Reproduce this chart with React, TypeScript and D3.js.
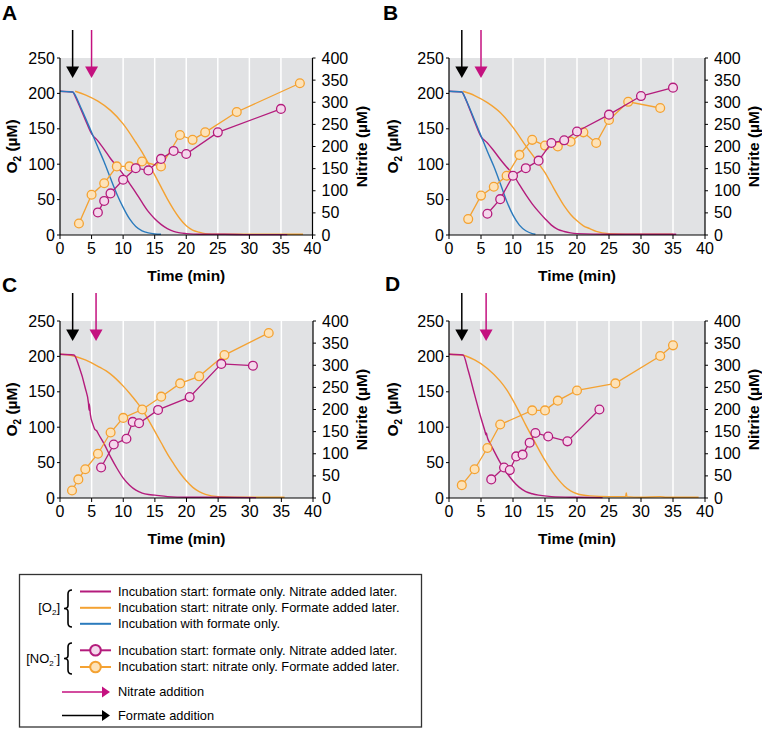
import React from 'react';
import * as d3 from 'd3';

type P = [number, number];

const timeTicks = [0, 5, 10, 15, 20, 25, 30, 35, 40];
const o2Ticks = [0, 50, 100, 150, 200, 250];
const nitriteTicks = [0, 50, 100, 150, 200, 250, 300, 350, 400];

// Panel A
const A_o2Blue: P[] = [[0,203],[1,202.5],[2,202],[2.5,196],[3,186],[4,166],[5,145],[6,124],[7,103],[8,80],[9,58],[10,39],[11,23],[12,12],[13,6],[14,3],[15,1.5],[16,1]];
const A_o2Mag: P[] = [[0,203],[2,202],[2.5,194],[3,184],[4,163],[5,143],[6,133],[7,121],[8,108],[9,97],[10,86],[11,73],[12,60],[13,46],[14,33],[15,23],[16,15],[17,9],[18,5],[19,3],[20,2],[22,1],[26,1],[30,0.5],[36,0.5]];
const A_o2Orange: P[] = [[2.4,203],[4,198],[6,189],[8,176],[10,157],[12,131],[13,117],[14,101],[15,85],[16,68],[17,51],[18,36],[19,23],[20,13],[21,7],[22,4],[23,2],[25,1],[30,1],[38.5,1]];
const A_no2Orange: P[] = [[3,26],[5,91],[7,117],[9,155],[11,155],[13,166],[16,155],[19,226],[21,215],[23,232],[28,278],[38,343]];
const A_no2Mag: P[] = [[6,51],[7,77],[8,94],[10,125],[12,151],[14,146],[16,172],[18,190],[20,183],[25,232],[35,285]];

// Panel B
const B_o2Blue: P[] = [[0,203],[2,202],[2.5,194],[3,184],[4,162],[5,140],[6,118],[7,97],[8,73],[9,48],[10,28],[11,14],[12,6],[13,2],[13.5,1]];
const B_o2Mag: P[] = [[0,203],[2,202],[2.5,194],[3,183],[4,160],[5,139],[6,130],[7,119],[8,107],[9,96],[10,86],[11,71],[12,57],[13,44],[14,33],[15,23],[16,14],[17,8],[18,5],[19,3],[20,2],[25,1],[35.5,1]];
const B_o2Orange: P[] = [[2.2,203],[4,197],[6,187],[8,173],[10,152],[12,126],[14,101],[15,88],[16,72],[17,56],[18,41],[19,29],[20,20],[21,13],[22,9],[23,5],[25,2],[30,1],[35,1]];
const B_no2Orange: P[] = [[3,36],[5,89],[7,109],[9,134],[11,181],[13,215],[15,202],[17,200],[19,211],[21,232],[23,208],[25,260],[28,301],[33,287]];
const B_no2Mag: P[] = [[6,48],[8,81],[10,134],[12,151],[14,168],[16,208],[18,214],[20,234],[25,272],[30,314],[35,333]];

// Panel C
const C_o2Mag: P[] = [[0,203],[2.2,202],[3,186],[4,155],[4.5,134],[4.6,124],[4.63,133],[4.8,118],[5.2,104],[5.5,97],[5.8,95],[6.1,90],[7,76],[8,58],[9,42],[10,28],[11,18],[12,11],[13,7],[14,5],[15,4],[17,2],[20,1],[25,1],[31,0.5]];
const C_o2Orange: P[] = [[0,203],[2,201],[4,195],[6,186],[8,175],[10,158],[11,148],[12,137],[13,125],[14,110],[15,94],[16,78],[17,62],[18,48],[19,35],[20,24],[21,15],[22,9],[23,5],[25,2],[30,1],[35.5,1]];
const C_no2Orange: P[] = [[1.9,17],[2.9,42],[4,65],[6,100],[8,148],[10,181],[13,200],[16,229],[19,259],[22,275],[26,323],[33,373]];
const C_no2Mag: P[] = [[6.5,69],[8.5,121],[10.5,134],[11.5,172],[12.5,169],[15.5,199],[20.5,228],[25.5,303],[30.5,299]];

// Panel D
const D_o2Mag: P[] = [[0,203],[2.2,202],[3,180],[4,146],[5,113],[5.6,95],[5.8,89],[5.85,92],[5.95,87],[6.5,76],[7,67],[8,50],[9,36],[10,24],[11,15],[12,9],[13,6],[14,4],[16,2],[20,1],[24,0.5]];
const D_o2Orange: P[] = [[0,203],[2,202],[4,195],[6,183],[8,165],[9,153],[10,138],[11,121],[12,103],[13,86],[14,69],[15,53],[16,39],[17,27],[18,17],[19,10],[20,6],[22,3],[25,2],[27.6,2],[27.7,7],[27.8,2],[30,1],[33,2],[34,1],[39,1]];
const D_no2Orange: P[] = [[2,29],[4,65],[6,113],[8,166],[13,198],[15,198],[17,220],[20,243],[26,259],[33,321],[35,345]];
const D_no2Mag: P[] = [[6.6,42],[8.6,69],[9.5,63],[10.5,94],[11.5,98],[12.6,125],[13.5,147],[15.5,139],[18.5,128],[23.5,200]];

const formateAdd = [2, 2, 2, 2];
const nitrateAdd = [5, 5, 5.7, 5.8];
const panelLetters = ['A', 'B', 'C', 'D'];

const legendLines = [
  'Incubation start: formate only. Nitrate added later.',
  'Incubation start: nitrate only. Formate added later.',
  'Incubation with formate only.',
];
const legendMarkers = [
  'Incubation start: formate only. Nitrate added later.',
  'Incubation start: nitrate only. Formate added later.',
];
const legendArrows = ['Nitrate addition', 'Formate addition'];

const MAG = '#b41c7c';
const ORA = '#f4a232';
const BLUE = '#2b7bbd';
const MAG_FILL = '#f4d8ec';
const ORA_FILL = '#fde2b8';
const MAG_ARROW = '#c4117f';
const BG = '#e1e2e4';
const FONT = '"Liberation Sans", Arial, Helvetica, sans-serif';

interface PanelDef {
  x0: number; x1: number; y0: number; y1: number;
  letter: string; lx: number; ly: number;
  o2LabelX: number;
  blue?: P[]; mag: P[]; ora: P[]; nMag: P[]; nOra: P[];
  fAdd: number; nAdd: number;
}

const panels: PanelDef[] = [
  { x0: 60, x1: 312.5, y0: 58, y1: 235, letter: panelLetters[0], lx: 2, ly: 20, o2LabelX: 17, blue: A_o2Blue, mag: A_o2Mag, ora: A_o2Orange, nMag: A_no2Mag, nOra: A_no2Orange, fAdd: formateAdd[0], nAdd: nitrateAdd[0] },
  { x0: 449, x1: 705, y0: 58, y1: 235, letter: panelLetters[1], lx: 383, ly: 20, o2LabelX: 398, blue: B_o2Blue, mag: B_o2Mag, ora: B_o2Orange, nMag: B_no2Mag, nOra: B_no2Orange, fAdd: formateAdd[1], nAdd: nitrateAdd[1] },
  { x0: 60, x1: 313, y0: 321, y1: 498, letter: panelLetters[2], lx: 2, ly: 292, o2LabelX: 17, mag: C_o2Mag, ora: C_o2Orange, nMag: C_no2Mag, nOra: C_no2Orange, fAdd: formateAdd[2], nAdd: nitrateAdd[2] },
  { x0: 449, x1: 705, y0: 321, y1: 498, letter: panelLetters[3], lx: 385, ly: 291, o2LabelX: 398, mag: D_o2Mag, ora: D_o2Orange, nMag: D_no2Mag, nOra: D_no2Orange, fAdd: formateAdd[3], nAdd: nitrateAdd[3] },
];

function Panel({ p }: { p: PanelDef }) {
  const x = d3.scaleLinear().domain([0, 40]).range([p.x0, p.x1]);
  const yL = d3.scaleLinear().domain([0, 250]).range([p.y1, p.y0]);
  const yR = d3.scaleLinear().domain([0, 400]).range([p.y1, p.y0]);
  const o2Line = d3.line<P>().x(d => x(d[0])).y(d => yL(d[1])).curve(d3.curveMonotoneX);
  const nLine = d3.line<P>().x(d => x(d[0])).y(d => yR(d[1]));
  const midY = (p.y0 + p.y1) / 2;
  const midX = (p.x0 + p.x1) / 2;
  const arrow = (t: number, color: string) => {
    const ax = x(t);
    return (
      <g>
        <line x1={ax} x2={ax} y1={p.y0 - 28} y2={p.y0 + 10} stroke={color} strokeWidth={1.5} />
        <path d={`M${ax - 6.5},${p.y0 + 8.5} L${ax + 6.5},${p.y0 + 8.5} L${ax},${p.y0 + 20} Z`} fill={color} />
      </g>
    );
  };
  return (
    <g fontFamily={FONT}>
      <rect x={p.x0} y={p.y0} width={p.x1 - p.x0} height={p.y1 - p.y0} fill={BG} />
      {timeTicks.filter(t => t > 0 && t < 40).map(t => (
        <line key={t} x1={x(t)} x2={x(t)} y1={p.y0} y2={p.y1} stroke="#fff" strokeWidth={1.5} />
      ))}
      {/* O2 lines */}
      <path d={o2Line(p.ora) || ''} fill="none" stroke={ORA} strokeWidth={1.4} />
      <path d={o2Line(p.mag) || ''} fill="none" stroke={MAG} strokeWidth={1.4} />
      {p.blue && <path d={o2Line(p.blue) || ''} fill="none" stroke={BLUE} strokeWidth={1.4} />}
      {/* nitrite */}
      <path d={nLine(p.nOra) || ''} fill="none" stroke={ORA} strokeWidth={1.3} />
      {p.nOra.map((d, i) => (
        <circle key={'o' + i} cx={x(d[0])} cy={yR(d[1])} r={4.4} fill={ORA_FILL} stroke={ORA} strokeWidth={1.3} />
      ))}
      <path d={nLine(p.nMag) || ''} fill="none" stroke={MAG} strokeWidth={1.3} />
      {p.nMag.map((d, i) => (
        <circle key={'m' + i} cx={x(d[0])} cy={yR(d[1])} r={4.4} fill={MAG_FILL} stroke={MAG} strokeWidth={1.3} />
      ))}
      {/* axes */}
      <line x1={p.x0} x2={p.x0} y1={p.y0} y2={p.y1} stroke="#000" strokeWidth={1.2} />
      <line x1={p.x1} x2={p.x1} y1={p.y0} y2={p.y1} stroke="#000" strokeWidth={1.2} />
      <line x1={p.x0} x2={p.x1} y1={p.y1} y2={p.y1} stroke="#000" strokeWidth={1.2} />
      {o2Ticks.map(v => (
        <g key={'l' + v}>
          <line x1={p.x0 - 3} x2={p.x0} y1={yL(v)} y2={yL(v)} stroke="#000" />
          <text x={p.x0 - 5} y={yL(v)} dy="0.35em" textAnchor="end" fontSize={16}>{v}</text>
        </g>
      ))}
      {nitriteTicks.map(v => (
        <g key={'r' + v}>
          <line x1={p.x1} x2={p.x1 + 3} y1={yR(v)} y2={yR(v)} stroke="#000" />
          <text x={p.x1 + 9} y={yR(v)} dy="0.35em" textAnchor="start" fontSize={16}>{v}</text>
        </g>
      ))}
      {timeTicks.map(t => (
        <g key={'b' + t}>
          <line x1={x(t)} x2={x(t)} y1={p.y1} y2={p.y1 + 4} stroke="#000" />
          <text x={x(t)} y={p.y1 + 19} textAnchor="middle" fontSize={16}>{t}</text>
        </g>
      ))}
      <text x={midX} y={p.y1 + 46} textAnchor="middle" fontSize={15.5} fontWeight="bold">Time (min)</text>
      <text transform={`translate(${p.o2LabelX},${midY}) rotate(-90)`} textAnchor="middle" fontSize={15.5} fontWeight="bold">
        O<tspan fontSize={10} dy={4}>2</tspan><tspan dy={-4}> (µM)</tspan>
      </text>
      <text transform={`translate(${p.x1 + 54},${midY}) rotate(-90)`} textAnchor="middle" fontSize={15.5} fontWeight="bold">Nitrite (µM)</text>
      <text x={p.lx} y={p.ly} fontSize={21} fontWeight="bold">{p.letter}</text>
      {arrow(p.fAdd, '#000')}
      {arrow(p.nAdd, MAG_ARROW)}
    </g>
  );
}

function brace(x: number, y1: number, y2: number) {
  const ym = (y1 + y2) / 2;
  return `M${x + 4},${y1} Q${x},${y1} ${x},${y1 + 4} L${x},${ym - 3} Q${x},${ym} ${x - 4},${ym} Q${x},${ym} ${x},${ym + 3} L${x},${y2 - 4} Q${x},${y2} ${x + 4},${y2}`;
}

function Legend() {
  const lineYs = [591.5, 607.8, 623.8];
  const lineColors = [MAG, ORA, BLUE];
  const markYs = [650.3, 667];
  const markColors = [MAG, ORA];
  const markFills = [MAG_FILL, ORA_FILL];
  const arrowYs = [692, 715.5];
  const arrowColors = [MAG_ARROW, '#000'];
  const fs = 12.8;
  return (
    <g fontFamily={FONT}>
      <rect x={19.5} y={574.5} width={402} height={152.5} fill="#fff" stroke="#333" strokeWidth={1.3} />
      {legendLines.map((t, i) => (
        <g key={'ll' + i}>
          <line x1={80} x2={111} y1={lineYs[i]} y2={lineYs[i]} stroke={lineColors[i]} strokeWidth={2} />
          <text x={118} y={lineYs[i]} dy="0.35em" fontSize={fs}>{t}</text>
        </g>
      ))}
      {legendMarkers.map((t, i) => (
        <g key={'lm' + i}>
          <line x1={80} x2={111} y1={markYs[i]} y2={markYs[i]} stroke={markColors[i]} strokeWidth={2} />
          <circle cx={95.5} cy={markYs[i]} r={5.3} fill={markFills[i]} stroke={markColors[i]} strokeWidth={2} />
          <text x={118} y={markYs[i]} dy="0.35em" fontSize={fs}>{t}</text>
        </g>
      ))}
      {legendArrows.map((t, i) => (
        <g key={'la' + i}>
          <line x1={62} x2={104} y1={arrowYs[i]} y2={arrowYs[i]} stroke={arrowColors[i]} strokeWidth={1.5} />
          <path d={`M${102},${arrowYs[i] - 5.5} L${110},${arrowYs[i]} L${102},${arrowYs[i] + 5.5} Z`} fill={arrowColors[i]} />
          <text x={118} y={arrowYs[i]} dy="0.35em" fontSize={fs}>{t}</text>
        </g>
      ))}
      <path d={brace(68, 590, 627)} fill="none" stroke="#000" strokeWidth={1.6} />
      <path d={brace(68, 643, 674)} fill="none" stroke="#000" strokeWidth={1.6} />
      <text x={60} y={612} textAnchor="end" fontSize={13}>
        [O<tspan fontSize={8} dy={3}>2</tspan><tspan dy={-3}>]</tspan>
      </text>
      <text x={60} y={663} textAnchor="end" fontSize={13}>
        [NO<tspan fontSize={8} dy={3}>2</tspan><tspan fontSize={8} dy={-8}>-</tspan><tspan dy={5}>]</tspan>
      </text>
    </g>
  );
}

export default function App() {
  return (
    <svg width={762} height={730} style={{ display: 'block', position: 'absolute', left: 0, top: 0 }}>
      <rect width={762} height={730} fill="#fff" />
      {panels.map((p, i) => <Panel key={i} p={p} />)}
      <Legend />
    </svg>
  );
}
